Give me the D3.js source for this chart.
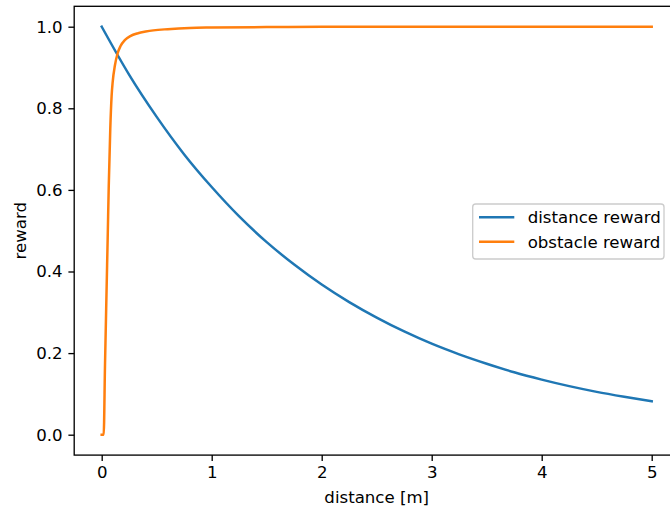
<!DOCTYPE html>
<html>
<head>
<meta charset="utf-8">
<script src="https://cdn.jsdelivr.net/npm/d3@7"></script>
<style>
  html, body { margin: 0; padding: 0; background: #fff; }
  svg { display: block; font-family: "DejaVu Sans", sans-serif; }
</style>
</head>
<body>
<svg id="chart" width="670" height="512"></svg>
<script>
// Distance reward sampled along distance [m]
const distX = [0, 0.25, 0.5, 0.75, 1, 1.25, 1.5, 1.75, 2, 2.25, 2.5, 2.75, 3, 3.25, 3.5, 3.75, 4, 4.25, 4.5, 4.75, 5];
const distReward = [1, 0.882, 0.779, 0.687, 0.607, 0.535, 0.472, 0.417, 0.368, 0.325, 0.287, 0.253, 0.223, 0.197, 0.174, 0.153, 0.135, 0.119, 0.105, 0.093, 0.082];

// Obstacle reward sampled along distance [m]
const obstX = [0, 0.018, 0.03, 0.045, 0.055, 0.064, 0.078, 0.09, 0.1, 0.12, 0.145, 0.17, 0.21, 0.26, 0.33, 0.4, 0.47, 0.6, 0.8, 1.0, 1.5, 2, 3, 4, 5];
const obstReward = [0, 0, 0.17, 0.363, 0.49, 0.608, 0.75, 0.83, 0.865, 0.905, 0.935, 0.952, 0.967, 0.977, 0.984, 0.988, 0.991, 0.994, 0.997, 0.998, 0.999, 1, 1, 1, 1];

const xTicks = [0, 1, 2, 3, 4, 5];
const yTicks = [0, 0.2, 0.4, 0.6, 0.8, 1.0];
const seriesNames = ["distance reward", "obstacle reward"];
const seriesColors = ["#1f77b4", "#ff7f0e"];

const svg = d3.select("#chart");
const plotLeft = 74.2, plotTop = 6.3, plotRight = 679.2, plotBottom = 455.1;
const fontSize = 16.6;

const x = d3.scaleLinear().domain([-0.25, 5.25]).range([plotLeft, plotRight]);
const y = d3.scaleLinear().domain([-0.05, 1.05]).range([plotBottom, plotTop]);

const series = [
  { xs: distX, ys: distReward },
  { xs: obstX, ys: obstReward }
];

const line = d3.line()
  .x(d => x(d[0]))
  .y(d => y(d[1]))
  .curve(d3.curveMonotoneX);

series.forEach((s, i) => {
  svg.append("path")
    .datum(s.xs.map((v, j) => [v, s.ys[j]]))
    .attr("d", line)
    .attr("fill", "none")
    .attr("stroke", seriesColors[i])
    .attr("stroke-width", 2.5)
    .attr("stroke-linejoin", "round")
    .attr("stroke-linecap", "square");
});

// Axes
const xAxis = d3.axisBottom(x).tickValues(xTicks).tickFormat(d3.format("d"))
  .tickSize(5.8).tickPadding(5.8);
const yAxis = d3.axisLeft(y).tickValues(yTicks).tickFormat(d3.format(".1f"))
  .tickSize(5.8).tickPadding(5.8);

const gx = svg.append("g").attr("transform", `translate(0,${plotBottom})`).call(xAxis);
const gy = svg.append("g").attr("transform", `translate(${plotLeft},0)`).call(yAxis);
[gx, gy].forEach(g => {
  g.select(".domain").remove();
  g.selectAll(".tick line").attr("stroke", "#000").attr("stroke-width", 1.33);
  g.selectAll(".tick text").attr("fill", "#000").attr("font-size", fontSize)
    .attr("font-family", "DejaVu Sans, sans-serif");
});

// Frame
svg.append("rect")
  .attr("x", plotLeft).attr("y", plotTop)
  .attr("width", plotRight - plotLeft).attr("height", plotBottom - plotTop)
  .attr("fill", "none").attr("stroke", "#000").attr("stroke-width", 1.33);

// Axis labels
svg.append("text")
  .attr("x", x(2.5)).attr("y", 503)
  .attr("text-anchor", "middle").attr("font-size", fontSize)
  .text("distance [m]");
svg.append("text")
  .attr("transform", `translate(26,${y(0.5)}) rotate(-90)`)
  .attr("text-anchor", "middle").attr("font-size", fontSize)
  .text("reward");

// Legend
const lg = svg.append("g");
lg.append("rect")
  .attr("x", 472.7).attr("y", 204)
  .attr("width", 191.3).attr("height", 55)
  .attr("rx", 3).attr("ry", 3)
  .attr("fill", "#fff").attr("fill-opacity", 0.8)
  .attr("stroke", "#cccccc").attr("stroke-width", 1.33);
seriesNames.forEach((name, i) => {
  const cy = 217.3 + i * 24.4;
  lg.append("line")
    .attr("x1", 479).attr("x2", 514.3)
    .attr("y1", cy).attr("y2", cy)
    .attr("stroke", seriesColors[i]).attr("stroke-width", 2.5);
  lg.append("text")
    .attr("x", 527.7).attr("y", cy)
    .attr("dy", "0.35em")
    .attr("font-size", fontSize)
    .text(name);
});
</script>
</body>
</html>
